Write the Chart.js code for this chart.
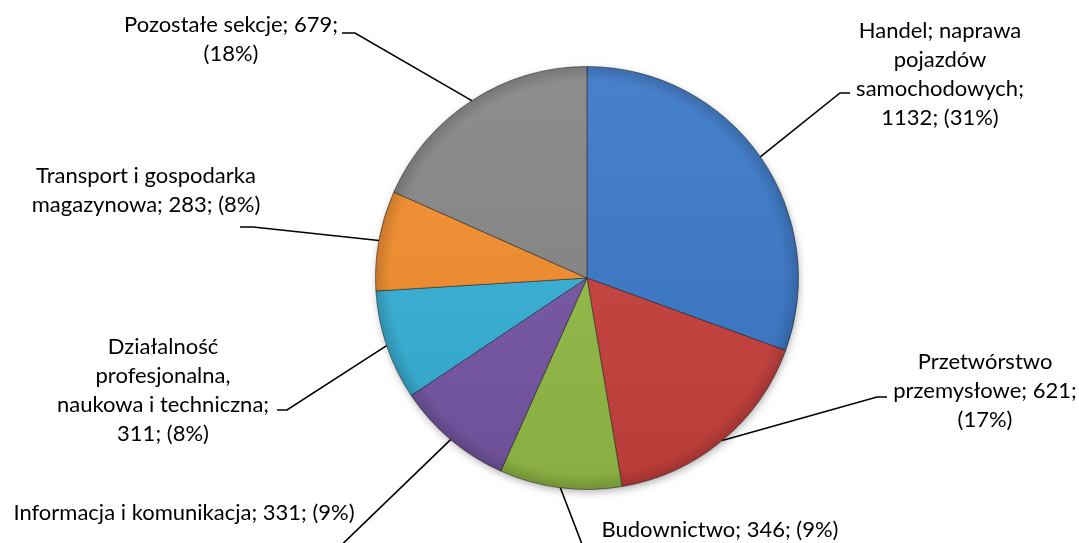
<!DOCTYPE html>
<html>
<head>
<meta charset="utf-8">
<script src="https://cdn.jsdelivr.net/npm/chart.js@4.4.1/dist/chart.umd.min.js"></script>
<style>
    html, body { margin: 0; padding: 0; background: #fff; }
    #pie { display: block; }
</style>
</head>
<body>
<canvas id="pie" width="1079" height="543"></canvas>
<script>
// Chart data
const categories = [
    'Handel; naprawa pojazdów samochodowych',
    'Przetwórstwo przemysłowe',
    'Budownictwo',
    'Informacja i komunikacja',
    'Działalność profesjonalna, naukowa i techniczna',
    'Transport i gospodarka magazynowa',
    'Pozostałe sekcje'
];
const values = [1132, 621, 346, 331, 311, 283, 679];
const sliceColors = ['#3A78C8', '#C8403D', '#92BA46', '#7556A3', '#36B0D6', '#F38D2C', '#868686'];

// How many words go on each line of a label
const labelWraps = [[2, 1, 1, 2], [1, 2, 1], [3], [5], [1, 1, 3, 2], [3, 3], [3, 1]];

// Label placement: text centre x, first line centre y, leader elbow and end
const labelLayout = [
    { x: 940, y: 31,  elbow: [840, 93],  end: [850, 93] },
    { x: 985, y: 362, elbow: [877, 397], end: [887, 397] },
    { x: 720, y: 530, elbow: [590, 565], end: null },
    { x: 184, y: 513, elbow: [328, 558], end: null },
    { x: 163, y: 347, elbow: [287, 410], end: [277, 410] },
    { x: 146, y: 176, elbow: [253, 227], end: [240, 227] },
    { x: 231, y: 25,  elbow: [355, 33],  end: [342, 33] }
];

const LABEL_FONT = '22px Lato';
const LINE_HEIGHT = 29;

const total = values.reduce((a, b) => a + b, 0);

function buildLabel(i) {
    const pct = Math.round(values[i] / total * 100);
    const words = `${categories[i]}; ${values[i]}; (${pct}%)`.split(' ');
    const lines = [];
    let pos = 0;
    labelWraps[i].forEach(n => {
        lines.push(words.slice(pos, pos + n).join(' '));
        pos += n;
    });
    return lines;
}

// Shade a hex colour by a factor (-1..1)
function shade(hex, f) {
    const n = parseInt(hex.slice(1), 16);
    let r = n >> 16, g = (n >> 8) & 255, b = n & 255;
    const t = f < 0 ? 0 : 255;
    const p = Math.abs(f);
    r = Math.round((t - r) * p + r);
    g = Math.round((t - g) * p + g);
    b = Math.round((t - b) * p + b);
    return `rgb(${r},${g},${b})`;
}

function sliceFill(context) {
    const chart = context.chart;
    const area = chart.chartArea;
    const base = sliceColors[context.dataIndex];
    if (!area) return base;
    const grad = chart.ctx.createLinearGradient(0, area.top, 0, area.bottom);
    grad.addColorStop(0, shade(base, 0.07));
    grad.addColorStop(1, shade(base, -0.07));
    return grad;
}

// Soft shadow behind the pie and a darker rim
const pieEffects = {
    id: 'pieEffects',
    beforeDatasetsDraw(chart) {
        const arc = chart.getDatasetMeta(0).data[0];
        if (!arc) return;
        const ctx = chart.ctx;
        ctx.save();
        ctx.shadowColor = 'rgba(0,0,0,0.35)';
        ctx.shadowBlur = 8;
        ctx.shadowOffsetX = 1;
        ctx.shadowOffsetY = 3;
        ctx.fillStyle = '#888';
        ctx.beginPath();
        ctx.arc(arc.x, arc.y, arc.outerRadius - 1, 0, Math.PI * 2);
        ctx.fill();
        ctx.restore();
    },
    afterDatasetsDraw(chart) {
        const arc = chart.getDatasetMeta(0).data[0];
        if (!arc) return;
        const ctx = chart.ctx;
        const r = arc.outerRadius;
        ctx.save();
        const grad = ctx.createRadialGradient(arc.x, arc.y, r * 0.93, arc.x, arc.y, r);
        grad.addColorStop(0, 'rgba(0,0,0,0)');
        grad.addColorStop(1, 'rgba(0,0,0,0.16)');
        ctx.fillStyle = grad;
        ctx.beginPath();
        ctx.arc(arc.x, arc.y, r, 0, Math.PI * 2);
        ctx.arc(arc.x, arc.y, r * 0.93, 0, Math.PI * 2, true);
        ctx.fill();
        ctx.restore();
    }
};

// Outside labels with leader lines
const outsideLabels = {
    id: 'outsideLabels',
    afterDraw(chart) {
        const ctx = chart.ctx;
        const meta = chart.getDatasetMeta(0);
        ctx.save();
        ctx.strokeStyle = '#000';
        ctx.lineWidth = 1.6;
        ctx.fillStyle = '#000';
        ctx.font = LABEL_FONT;
        ctx.textAlign = 'center';
        ctx.textBaseline = 'middle';
        meta.data.forEach((arc, i) => {
            const lay = labelLayout[i];
            const mid = (arc.startAngle + arc.endAngle) / 2;
            const sx = arc.x + Math.cos(mid) * arc.outerRadius;
            const sy = arc.y + Math.sin(mid) * arc.outerRadius;
            ctx.beginPath();
            ctx.moveTo(sx, sy);
            ctx.lineTo(lay.elbow[0], lay.elbow[1]);
            if (lay.end) ctx.lineTo(lay.end[0], lay.end[1]);
            ctx.stroke();

            buildLabel(i).forEach((line, k) => {
                ctx.fillText(line, lay.x, lay.y + k * LINE_HEIGHT);
            });
        });
        ctx.restore();
    }
};

new Chart(document.getElementById('pie'), {
    type: 'pie',
    data: {
        labels: categories,
        datasets: [{
            data: values,
            backgroundColor: sliceFill,
            borderColor: 'rgba(30,30,30,0.5)',
            borderWidth: 1
        }]
    },
    options: {
        responsive: false,
        animation: false,
        layout: {
            padding: { left: 375, right: 280, top: 66, bottom: 53 }
        },
        plugins: {
            legend: { display: false },
            tooltip: { enabled: false }
        }
    },
    plugins: [pieEffects, outsideLabels]
});
</script>
</body>
</html>
